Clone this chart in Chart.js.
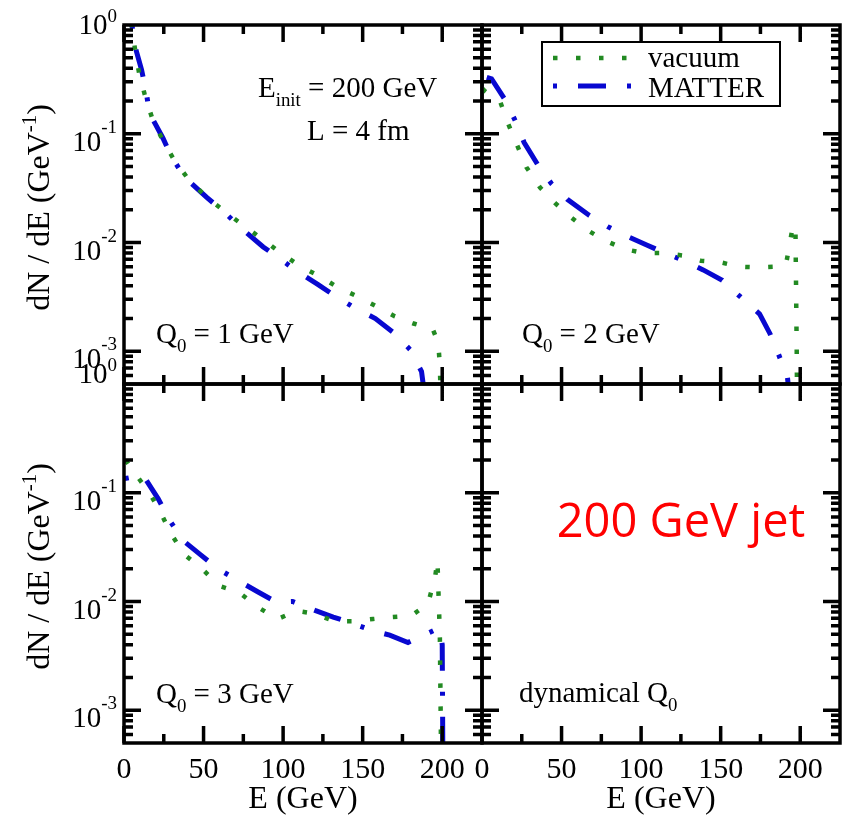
<!DOCTYPE html>
<html>
<head>
<meta charset="utf-8">
<script src="https://cdn.jsdelivr.net/npm/chart.js@4.4.0/dist/chart.umd.min.js"></script>
<style>
  body { margin: 0; background: #fff; }
  #wrap { position: relative; width: 848px; height: 815px; }
  #wrap canvas { position: absolute; left: 0; top: 0; }
</style>
</head>
<body>
<div id="wrap">
  <canvas id="q1" width="848" height="815"></canvas>
  <canvas id="q2" width="848" height="815"></canvas>
  <canvas id="q3" width="848" height="815"></canvas>
  <canvas id="qdyn" width="848" height="815"></canvas>
</div>
<script>
// tick values and labels
const X_MAJOR = [0, 50, 100, 150, 200]
const X_MINOR = [25, 75, 125, 175]
const X_LABELS = ['0', '50', '100', '150', '200']
const Y_DECADES = [1, 0.1, 0.01, 0.001]
const Y_EXPONENTS = ['0', '-1', '-2', '-3']

// Q0 = 1 GeV
const E_VAC_1 = [4.5, 7, 9.5, 13, 17.5, 24, 31, 40, 52, 64, 76, 88, 100, 112, 124, 134, 146.5, 158.5, 170, 182, 194, 197.5, 198.5, 199.5]
const VAC_1 = [1.05, 0.59, 0.36, 0.23, 0.142, 0.089, 0.059, 0.039, 0.026, 0.019, 0.014, 0.0105, 0.0077, 0.0059, 0.0048, 0.0039, 0.0032, 0.0026, 0.0021, 0.0018, 0.0016, 0.0012, 0.00075, 0.0002]
const E_MAT_1 = [5, 7, 11, 14, 16, 24.5, 30, 38, 52, 63, 75, 87.5, 98, 109, 122, 133, 145, 158, 169, 180, 187, 190]
const MAT_1 = [1.0, 0.63, 0.39, 0.24, 0.155, 0.091, 0.061, 0.040, 0.026, 0.019, 0.013, 0.0091, 0.0071, 0.0054, 0.0041, 0.0032, 0.0025, 0.0020, 0.0015, 0.00103, 0.00065, 0.0003]

// Q0 = 2 GeV
const E_VAC_2 = [0.5, 1.3, 11.5, 16.5, 22, 28, 36.5, 46, 56, 67, 77, 89.5, 102, 114, 126, 137.5, 149.5, 161.5, 173.5, 185.5, 191, 195.5, 197, 197.8, 198.3]
const VAC_2 = [0.26, 0.25, 0.196, 0.123, 0.079, 0.049, 0.032, 0.023, 0.017, 0.0128, 0.0105, 0.0087, 0.0080, 0.0080, 0.0076, 0.0068, 0.0066, 0.0060, 0.0059, 0.0060, 0.0062, 0.0145, 0.0135, 0.001, 0.0001]
const E_MAT_2 = [3, 6, 15, 21.5, 26.5, 35, 43.5, 53.6, 67.5, 79, 89.5, 103.5, 114, 126, 139, 151, 161, 174.5, 181, 186, 192, 194]
const MAT_2 = [0.33, 0.32, 0.2, 0.126, 0.083, 0.052, 0.035, 0.025, 0.0177, 0.014, 0.0117, 0.0095, 0.0081, 0.0069, 0.0056, 0.0045, 0.0033, 0.0022, 0.00145, 0.00097, 0.00057, 0.0003]

// Q0 = 3 GeV
const E_VAC_3 = [1, 7, 16, 23, 29.5, 38, 49, 60, 72, 84.5, 96.5, 108.5, 120, 132, 144, 156.5, 168.5, 180.5, 191, 195.5, 197, 197.5, 198.5, 199.5]
const VAC_3 = [0.20, 0.15, 0.10, 0.066, 0.042, 0.027, 0.020, 0.0139, 0.0122, 0.0088, 0.0069, 0.0082, 0.0077, 0.0066, 0.0066, 0.0069, 0.0072, 0.0074, 0.0095, 0.0166, 0.024, 0.014, 0.005, 0.0002]
const E_MAT_3 = [0.5, 12, 21.5, 28, 36.5, 48, 59, 71, 84, 95.6, 106, 120, 131.5, 143.5, 156, 167, 178.5, 194.5, 198.5, 200, 200.5]
const MAT_3 = [0.135, 0.145, 0.088, 0.058, 0.037, 0.027, 0.020, 0.0158, 0.0123, 0.0099, 0.010, 0.0083, 0.0072, 0.0063, 0.0054, 0.0049, 0.0042, 0.0054, 0.0056, 0.004, 0.0002]

const SERIF = '"Liberation Serif", "Times New Roman", serif'
const GREEN = '#228a22'
const BLUE = '#0808d0'

// per panel: where labels go and what notes it carries
const PANEL_CFG = {
  q1: { yLabels: true, xLabels: false, top: true,
        notes: [{ parts: [['E'], ['init', 'sub'], [' = 200 GeV']], x: 258, y: 97 },
                { parts: [['L = 4 fm']], x: 307, y: 140 },
                { parts: [['Q'], ['0', 'sub'], [' = 1 GeV']], x: 156, y: 343 }] },
  q2: { yLabels: false, xLabels: false, legend: true,
        notes: [{ parts: [['Q'], ['0', 'sub'], [' = 2 GeV']], x: 522, y: 343 }] },
  q3: { yLabels: true, xLabels: true, top: false,
        notes: [{ parts: [['Q'], ['0', 'sub'], [' = 3 GeV']], x: 156, y: 703 }] },
  qdyn: { yLabels: false, xLabels: true,
        notes: [{ parts: [['dynamical Q'], ['0', 'sub']], x: 519, y: 702 }] }
}

function pts(es, vs) {
  return es.map((e, i) => ({ x: e, y: vs[i] }))
}

// draws text made of plain / sub / sup pieces
function drawRich(ctx, parts, x, y, size, align) {
  const fontOf = (p) => (p[1] ? size * 0.65 : size) + 'px ' + SERIF
  const widths = parts.map(p => { ctx.font = fontOf(p); return ctx.measureText(p[0]).width })
  const total = widths.reduce((s, w) => s + w, 0)
  let cx = align === 'center' ? x - total / 2 : x
  parts.forEach((p, i) => {
    ctx.font = fontOf(p)
    let dy = 0
    if (p[1] === 'sub') dy = size * 0.31
    if (p[1] === 'sup') dy = -size * 0.42
    ctx.fillText(p[0], cx, y + dy)
    cx += widths[i]
  })
}

const panelFrame = {
  id: 'panelFrame',
  afterDraw(chart) {
    const cfg = PANEL_CFG[chart.canvas.id]
    const ctx = chart.ctx
    const a = chart.chartArea
    const xs = chart.scales.x
    const ys = chart.scales.y
    ctx.save()
    ctx.strokeStyle = '#000'
    ctx.fillStyle = '#000'
    ctx.lineWidth = 3.5
    ctx.lineCap = 'butt'

    // inward ticks on all four sides
    ctx.beginPath()
    X_MAJOR.concat(X_MINOR).forEach(v => {
      const len = X_MAJOR.includes(v) ? 17 : 9
      const px = xs.getPixelForValue(v)
      ctx.moveTo(px, a.bottom); ctx.lineTo(px, a.bottom - len)
      ctx.moveTo(px, a.top); ctx.lineTo(px, a.top + len)
    })
    for (let d = -4; d <= 0; d++) {
      for (let k = 1; k <= 9; k++) {
        const v = k * Math.pow(10, d)
        if (v <= ys.min || v >= ys.max) continue
        const len = k === 1 ? 17 : 9
        const py = ys.getPixelForValue(v)
        ctx.moveTo(a.left, py); ctx.lineTo(a.left + len, py)
        ctx.moveTo(a.right, py); ctx.lineTo(a.right - len, py)
      }
    }
    ctx.stroke()
    ctx.strokeRect(a.left, a.top, a.right - a.left, a.bottom - a.top)

    ctx.textBaseline = 'alphabetic'
    ctx.textAlign = 'left'

    if (cfg.yLabels) {
      Y_DECADES.forEach((v, i) => {
        const py = ys.getPixelForValue(v)
        let base = py + 17
        let supUp = 18
        if (v === 1) {
          base = cfg.top ? py + 9 : py - 1
          supUp = 12
        }
        ctx.font = '19px ' + SERIF
        const supW = ctx.measureText(Y_EXPONENTS[i]).width
        ctx.font = '29px ' + SERIF
        const baseW = ctx.measureText('10').width
        const x0 = a.left - 7 - supW - baseW
        ctx.fillText('10', x0, base)
        ctx.font = '19px ' + SERIF
        ctx.fillText(Y_EXPONENTS[i], x0 + baseW, base - supUp)
      })
      // axis title, rotated
      ctx.save()
      ctx.translate(49, (a.top + a.bottom) / 2 + 3)
      ctx.rotate(-Math.PI / 2)
      drawRich(ctx, [['dN / dE (GeV'], ['-1', 'sup'], [')']], 0, 0, 32, 'center')
      ctx.restore()
    }

    if (cfg.xLabels) {
      ctx.textAlign = 'center'
      ctx.font = '30px ' + SERIF
      X_MAJOR.forEach((v, i) => {
        ctx.fillText(X_LABELS[i], xs.getPixelForValue(v), a.bottom + 35)
      })
      ctx.textAlign = 'left'
      drawRich(ctx, [['E (GeV)']], (a.left + a.right) / 2, a.bottom + 65, 32, 'center')
    }

    cfg.notes.forEach(n => drawRich(ctx, n.parts, n.x, n.y, 29, 'left'))

    if (cfg.legend) {
      ctx.fillStyle = '#fff'
      ctx.fillRect(542, 42, 238, 64)
      ctx.lineWidth = 2
      ctx.strokeStyle = '#000'
      ctx.strokeRect(542, 42, 238, 64)
      const rows = [{ y: 58, ty: 67, x1: 627 }, { y: 86, ty: 97, x1: 632 }]
      chart.data.datasets.forEach((ds, i) => {
        ctx.save()
        ctx.strokeStyle = ds.borderColor
        ctx.lineWidth = ds.borderWidth
        ctx.setLineDash(ds.borderDash)
        ctx.lineDashOffset = ds.legendDashOffset
        ctx.beginPath()
        ctx.moveTo(553, rows[i].y)
        ctx.lineTo(rows[i].x1, rows[i].y)
        ctx.stroke()
        ctx.restore()
        ctx.fillStyle = '#000'
        ctx.font = '29px ' + SERIF
        ctx.fillText(ds.label, 648, rows[i].ty)
      })
    }

    if (chart.canvas.id === 'qdyn') {
      ctx.fillStyle = '#ff0000'
      ctx.textAlign = 'center'
      ctx.font = '47px "Open Sans", "Noto Sans", sans-serif'
      ctx.fillText('200 GeV jet', 681, 537)
    }
    ctx.restore()
  }
}

function makePanel(id, pad, vac, mat, matOffset) {
  const datasets = []
  if (vac) {
    datasets.push({
      label: 'vacuum', data: vac, borderColor: GREEN, borderWidth: 4.5,
      borderDash: [4.5, 18.5], borderDashOffset: 0, legendDashOffset: 0,
      borderCapStyle: 'butt', fill: false
    })
    datasets.push({
      label: 'MATTER', data: mat, borderColor: BLUE, borderWidth: 5,
      borderDash: [28, 21, 4, 21], borderDashOffset: matOffset, legendDashOffset: 49,
      borderCapStyle: 'butt', fill: false
    })
  }
  return new Chart(document.getElementById(id), {
    type: 'line',
    data: { datasets: datasets },
    options: {
      responsive: false,
      animation: false,
      layout: { padding: pad },
      plugins: { legend: { display: false }, tooltip: { enabled: false } },
      elements: { point: { radius: 0 }, line: { tension: 0 } },
      scales: {
        x: { type: 'linear', min: 0, max: 225, display: false },
        y: { type: 'logarithmic', min: 5e-4, max: 1, display: false }
      }
    },
    plugins: [panelFrame]
  })
}

makePanel('q1', { left: 124, top: 25, right: 366, bottom: 431 }, pts(E_VAC_1, VAC_1), pts(E_MAT_1, MAT_1), 49)
makePanel('q2', { left: 482, top: 25, right: 8, bottom: 431 }, pts(E_VAC_2, VAC_2), pts(E_MAT_2, MAT_2), 0)
makePanel('q3', { left: 124, top: 384, right: 366, bottom: 72 }, pts(E_VAC_3, VAC_3), pts(E_MAT_3, MAT_3), 49)
makePanel('qdyn', { left: 482, top: 384, right: 8, bottom: 72 }, null, null, 0)
</script>
</body>
</html>
